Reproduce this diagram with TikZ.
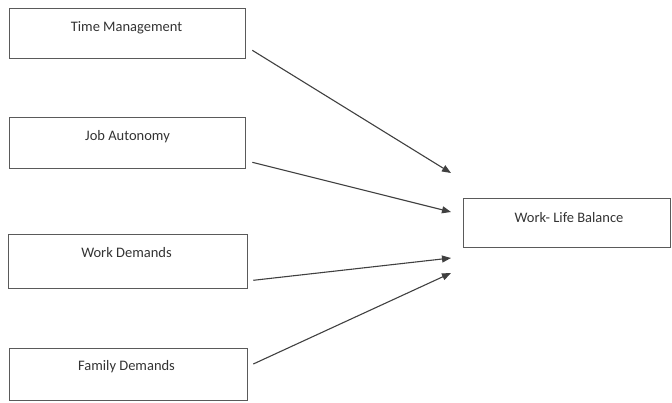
\documentclass[tikz,border=0pt]{standalone}
\usepackage{fontspec}
\setmainfont{Carlito}
\usetikzlibrary{arrows.meta,calc}
\definecolor{boxgray}{HTML}{5A5A5A}
\definecolor{txtgray}{HTML}{333333}
\definecolor{arrgray}{HTML}{404040}
\begin{document}
\begin{tikzpicture}[x=1pt,y=-1pt,
  boxnode/.style={draw=boxgray,line width=1.3pt,rectangle,inner sep=0pt,anchor=north west},
  lbl/.style={text=txtgray,font=\fontsize{14.5}{16}\selectfont,inner sep=0pt},
  conn/.style={draw=arrgray,line width=1.1pt,-{Triangle[length=9pt,width=7pt]}}]
\useasboundingbox (0,0) rectangle (672,402);
% boxes
\node[boxnode,minimum width=236pt,minimum height=50pt] (tm) at (9,8) {};
\node[boxnode,minimum width=236pt,minimum height=51pt] (ja) at (9,117) {};
\node[boxnode,minimum width=239pt,minimum height=54pt] (wd) at (8,234) {};
\node[boxnode,minimum width=238pt,minimum height=52pt] (fd) at (9,348) {};
\node[boxnode,minimum width=207pt,minimum height=49pt] (wlb) at (463,198) {};
% labels
\node[lbl] (tmt) at (126.5,28) {Time Management};
\node[lbl] (jat) at (127.5,137) {Job Autonomy};
\node[lbl] (wdt) at (126.5,253) {Work Demands};
\node[lbl] (fdt) at (126.5,367) {Family Demands};
\node[lbl] (wlbt) at (569,218) {Work- Life Balance};
% connector ends
\coordinate (s1) at ($(tm.south east)+(6,-9)$);
\coordinate (s2) at ($(ja.south east)+(6,-7)$);
\coordinate (s3) at ($(wd.south east)+(5,-9)$);
\coordinate (s4) at ($(fd.north east)+(5,16)$);
\coordinate (e1) at ($(wlb.north west)+(-12,-25)$);
\coordinate (e2) at ($(wlb.north west)+(-12,14)$);
\coordinate (e3) at ($(wlb.north west)+(-12,60)$);
\coordinate (e4) at ($(wlb.north west)+(-12,75)$);
\draw[conn] (s1) -- (e1);
\draw[conn] (s2) -- (e2);
\draw[conn] (s3) -- (e3);
\draw[conn] (s4) -- (e4);
\end{tikzpicture}
\end{document}
